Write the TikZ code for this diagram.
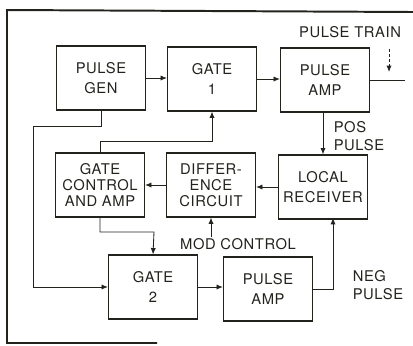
\documentclass[tikz,border=0pt]{standalone}
\usepackage{fontspec}
\setmainfont[LetterSpace=4]{TeX Gyre Heros}
\usetikzlibrary{arrows.meta,positioning}
\definecolor{lineblack}{RGB}{35,35,30}
\tikzset{
  blk/.style={draw=lineblack,line width=0.8pt,minimum width=2.225cm,minimum height=1.6cm,
    align=center,inner sep=1pt,font=\fontsize{10.5}{14}\selectfont},
  blkthree/.style={blk,font=\fontsize{10.5}{11.5}\selectfont},
  lbl/.style={font=\fontsize{10.5}{12.5}\selectfont,inner sep=1pt},
  arr/.style={draw=lineblack,line width=0.6pt,-{Latex[length=1.6mm,width=1.3mm]}},
  wire/.style={draw=lineblack,line width=0.6pt}
}
\begin{document}
\begin{tikzpicture}[x=0.025cm,y=-0.025cm,text=lineblack]
\useasboundingbox (0,0) rectangle (413,345);
% frame
\draw[lineblack,line width=1.4pt] (413,12) -- (7,10) -- (7,343) -- (157,343);
% blocks
\node[blk] (pgen) at (101,78) {PULSE\\GEN};
\node[blk] (gate1) at (212,79) {GATE\\1};
\node[blk] (pamp1) at (325,80) {PULSE\\AMP};
\node[blkthree] (gctl) at (100,185) {GATE\\CONTROL\\AND AMP};
\node[blkthree] (diff) at (211,185) {DIFFER-\\ENCE\\CIRCUIT};
\node[blk] (lrec) at (323,187) {LOCAL\\RECEIVER};
\node[blk] (gate2) at (153,287) {GATE\\2};
\node[blk] (pamp2) at (268,289) {PULSE\\AMP};
% labels
\node[lbl] (trainlbl) at (350,32) {PULSE TRAIN};
\node[lbl,align=left] (poslbl) at (359,136) {POS\\PULSE};
\node[lbl] (modlbl) at (238,244) {MOD CONTROL};
\node[lbl,align=left] (neglbl) at (378,285) {NEG\\PULSE};
% helper points
\coordinate (trainend) at (405,80);
\coordinate (trainin) at (389,80);
\coordinate (lbus) at (33,126);
\coordinate (fb1) at (212,141);
\coordinate (fb2) at (154,232);
\coordinate (negin) at (333,218);
% connectors
\draw[arr] (pgen.east) -- (pgen.east -| gate1.west);
\draw[arr] (gate1.east) -- (gate1.east -| pamp1.west);
\draw[wire] (pamp1.east) -- (trainend);
\draw[arr,dashed,dash pattern=on 2pt off 1.5pt,shorten >=2mm,shorten <=2.5mm] (trainlbl.south -| trainin) -- (trainin);
\draw[arr] (pamp1.south -| lrec.north) -- (lrec.north);
\draw[arr] (pgen.south) |- (lbus) |- (gate2.west);
\draw[arr] (gctl.north) |- (fb1) -- (gate1.south);
\draw[arr] (diff.west) -- (gctl.east);
\draw[arr] (lrec.west) -- (lrec.west -| diff.east);
\draw[arr] (modlbl.north -| diff.south) -- (diff.south);
\draw[arr] (gctl.south) |- (fb2) -- (gate2.north);
\draw[arr] (gate2.east) -- (gate2.east -| pamp2.west);
\draw[arr] (pamp2.east) -| (negin);
\end{tikzpicture}
\end{document}
